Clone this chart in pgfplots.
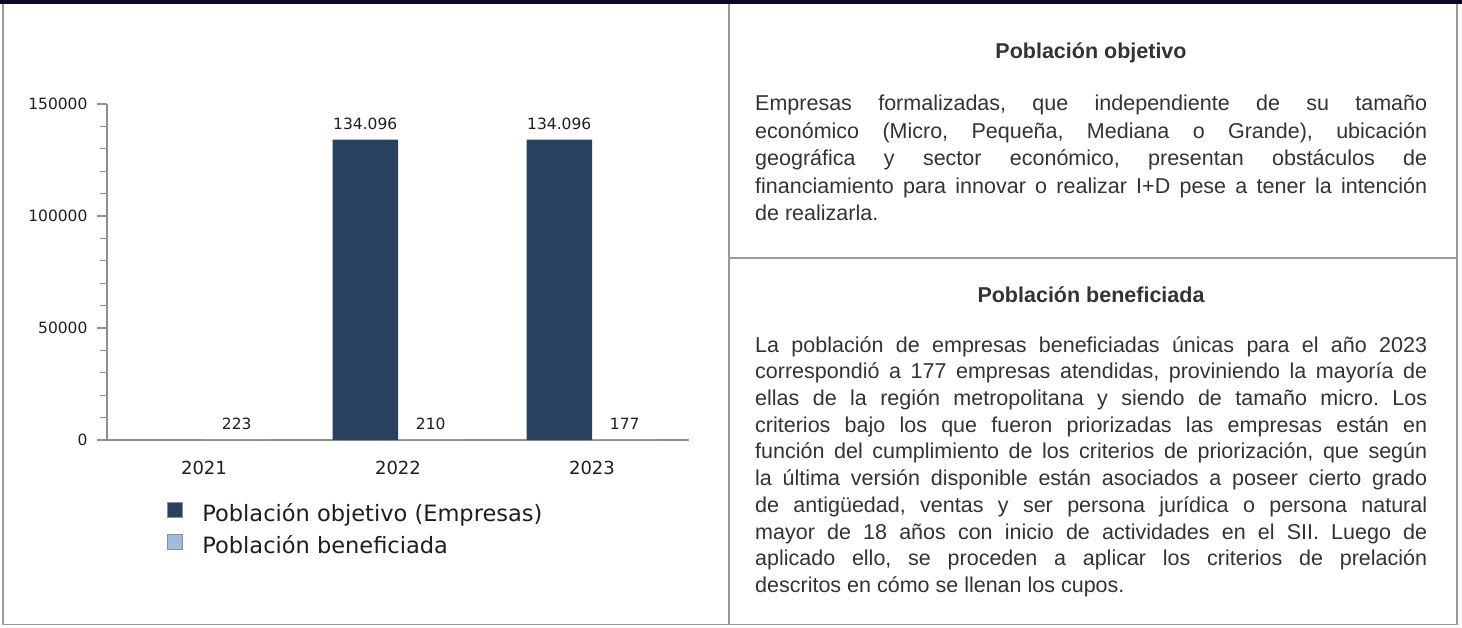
\documentclass[border=0pt]{standalone}
\usepackage{fontspec}
\setmainfont{Liberation Sans}
\newfontfamily\dejavu{DejaVu Sans}
\usepackage{pgfplots}
\pgfplotsset{compat=1.18}
\definecolor{darkbar}{HTML}{27425F}
\definecolor{lightbar}{HTML}{9DBCE0}
\definecolor{axisgray}{HTML}{8E8E8E}
\definecolor{bordergray}{HTML}{9A9A9A}
\definecolor{topbar}{HTML}{0A0A28}
\definecolor{charttext}{HTML}{1E1E1E}
\definecolor{paneltext}{HTML}{333333}
\newcommand\tickfont{\dejavu\fontsize{15.5}{18}\selectfont}
\newcommand\yearfont{\dejavu\fontsize{18}{21}\selectfont}
\newcommand\legfont{\dejavu\fontsize{22.5}{26}\selectfont}
\newcommand\panelfont{\fontsize{21.5}{27.5}\selectfont}
\newcommand\panelfontb{\fontsize{21.5}{26.7}\selectfont}
\begin{document}
\begin{tikzpicture}[x=1pt,y=1pt]
\path[use as bounding box] (0pt,0pt) rectangle (1462pt,627pt);
% frame
\fill[white] (0,0) rectangle (1462,627);
\draw[bordergray, line width=1.6pt] (3,623) -- (3,2.5) -- (1457,2.5) -- (1457,623);
\draw[bordergray, line width=1.8pt] (729,623) -- (729,2.5);
\draw[bordergray, line width=1.8pt] (729,369) -- (1457,369);
\fill[topbar] (0,623) rectangle (1462,627);
% chart
\begin{axis}[
  at={(107pt,187pt)}, anchor=south west,
  scale only axis, width=582pt, height=336pt,
  xmin=-0.5, xmax=2.5, ymin=0, ymax=150000,
  axis lines*=left,
  axis line style={draw=axisgray, line width=1.4pt},
  ybar=0pt, bar width=65.5pt,
  ytick={0,50000,100000,150000},
  yticklabels={0,50000,100000,150000},
  minor y tick num=4,
  tick align=outside,
  major tick length=10pt, minor tick length=7pt,
  ytick style={draw=axisgray, line width=1.3pt},
  xtick={0,1,2}, xticklabels={2021,2022,2023},
  xtick style={draw=none},
  scaled y ticks=false,
  yticklabel style={font=\tickfont, text=charttext, xshift=-6pt},
  xticklabel style={font=\yearfont, text=charttext, yshift=-8pt},
  every node near coord/.append style={font=\tickfont, text=charttext, anchor=base, yshift=10pt, inner sep=0pt},
  legend image code/.code={\draw[#1, draw=axisgray, line width=1.2pt] (0pt,-2pt) rectangle (15pt,13pt);},
  legend style={at={(0.1031,-0.1845)}, anchor=north west, draw=none, fill=none, inner sep=0pt,
    font=\legfont, text=charttext, column sep=19pt, row sep=7pt,
    nodes={inner sep=0pt, text height=17pt, text depth=6pt}},
  legend cell align=left,
  clip=false,
]
\addplot[fill=darkbar, draw=none, point meta=explicit symbolic, nodes near coords]
  coordinates {(1,134096)[134.096] (2,134096)[134.096]};
\addplot[fill=lightbar, draw=none, point meta=explicit symbolic, nodes near coords]
  coordinates {(0,223)[223] (1,210)[210] (2,177)[177]};
\legend{Población objetivo (Empresas), Población beneficiada}
\end{axis}
% right panel text
\begin{scope}[every node/.style={text=paneltext, inner sep=0pt}]
\node[anchor=base, font=\panelfont\bfseries] at (1091,568.7) {Población objetivo};
\node[anchor=north west, text width=672pt, align=justify, font=\panelfont] at (755,535.75)
{\frenchspacing\hyphenpenalty=10000\tolerance=10000\strut Empresas formalizadas, que independiente de su tamaño\linebreak
económico (Micro, Pequeña, Mediana o Grande), ubicación\linebreak
geográfica y sector económico, presentan obstáculos de\linebreak
financiamiento para innovar o realizar I+D pese a tener la intención\linebreak
de realizarla.};
\node[anchor=base, font=\panelfont\bfseries] at (1091,324) {Población beneficiada};
\node[anchor=north west, text width=672pt, align=justify, font=\panelfontb] at (755,293.7)
{\frenchspacing\hyphenpenalty=10000\tolerance=10000\strut La población de empresas beneficiadas únicas para el año 2023\linebreak
correspondió a 177 empresas atendidas, proviniendo la mayoría de\linebreak
ellas de la región metropolitana y siendo de tamaño micro. Los\linebreak
criterios bajo los que fueron priorizadas las empresas están en\linebreak
función del cumplimiento de los criterios de priorización, que según\linebreak
la última versión disponible están asociados a poseer cierto grado\linebreak
de antigüedad, ventas y ser persona jurídica o persona natural\linebreak
mayor de 18 años con inicio de actividades en el SII. Luego de\linebreak
aplicado ello, se proceden a aplicar los criterios de prelación\linebreak
descritos en cómo se llenan los cupos.};
\end{scope}
\end{tikzpicture}
\end{document}
